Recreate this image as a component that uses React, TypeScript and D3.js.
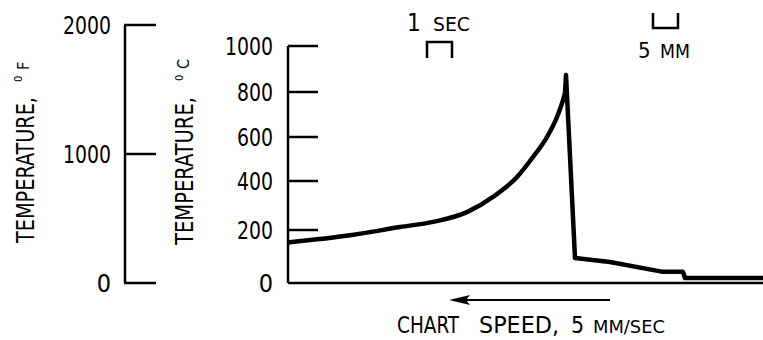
import React from "react";
import * as d3 from "d3";

// rising part of the trace (seconds along chart, deg C)
const riseTime = [0, 2.56, 4.48, 5.8, 7.16, 8.2, 9.16, 9.8, 10.36, 10.76, 11.0, 11.08];
const riseTemp = [153, 181, 212, 233, 273, 335, 418, 509, 600, 689, 764, 796];
// spike, drop and tail
const fallTime = [11.08, 11.12, 11.48, 12.88, 15.0, 15.8, 15.88, 19];
const fallTemp = [796, 874, 94, 79, 42, 42, 19, 19];

const cTicks = [0, 200, 400, 600, 800, 1000];
const cTickY = [283, 230, 181, 137, 92, 46]; // hand drawn scale, spacing not even
const fTicks = [0, 1000, 2000];

const secMark = 5.56; // "1 SEC" bracket start
const mmMark = 14.6; // "5 MM" bracket start
const arrowFrom = 12.88;
const arrowTo = 6.44;
const speedLabelAt = 4.36; // left edge of "CHART SPEED..."

const FONT = "'DejaVu Sans Condensed', 'DejaVu Sans', sans-serif";
const CH = 12; // width of one lettering char

// text, optionally squeezed to the lettering width
const T = ({ x = 0, y = 0, len, size, anchor = "start", rot = false, children }: any) => (
  <text
    transform={rot ? `translate(${x},${y}) rotate(-90)` : undefined}
    x={rot ? 0 : x}
    y={rot ? 0 : y}
    fontSize={size}
    textAnchor={anchor}
    textLength={len}
    lengthAdjust={len ? "spacingAndGlyphs" : undefined}
  >
    {children}
  </text>
);

const App = () => {
  const width = 763;
  const height = 340;

  const x = d3.scaleLinear().domain([0, 19]).range([288, 763]);
  const y = d3.scaleLinear().domain(cTicks).range(cTickY);
  const yF = d3.scaleLinear().domain([0, 2000]).range([283, 25]);

  const rise = riseTime.map((t, i) => [t, riseTemp[i]] as [number, number]);
  const fall = fallTime.map((t, i) => [t, fallTemp[i]] as [number, number]);

  const riseLine = d3
    .line<[number, number]>()
    .x((d) => x(d[0]))
    .y((d) => y(d[1]))
    .curve(d3.curveMonotoneX);
  const fallLine = d3
    .line<[number, number]>()
    .x((d) => x(d[0]))
    .y((d) => y(d[1]));

  const sec = x(1) - x(0);
  const fAxisX = 125;
  const tickLen = 30;
  const sx = x(speedLabelAt);

  return (
    <svg
      width={width}
      height={height}
      style={{ position: "absolute", left: 0, top: 0, background: "#fff" }}
      fontFamily={FONT}
    >
      {/* fahrenheit scale */}
      <line x1={fAxisX} x2={fAxisX} y1={yF(2000)} y2={yF(0)} stroke="#000" strokeWidth={2.5} />
      {fTicks.map((t) => (
        <g key={t}>
          <line x1={fAxisX - 1} x2={fAxisX + 31} y1={yF(t)} y2={yF(t)} stroke="#000" strokeWidth={2.5} />
          <T x={111} y={yF(t) + 9} size={25} anchor="end" len={t ? String(t).length * CH : undefined}>
            {t}
          </T>
        </g>
      ))}
      <T rot x={34} y={243} size={24} len={146}>TEMPERATURE,</T>
      <T rot x={22} y={82} size={11}>0</T>
      <T rot x={29} y={70} size={16}>F</T>

      {/* celsius axis */}
      <T rot x={193} y={245} size={24} len={148}>TEMPERATURE,</T>
      <T rot x={183} y={81} size={11}>0</T>
      <T rot x={189} y={69} size={16}>C</T>

      <line x1={x(0)} x2={x(0)} y1={y(1000)} y2={y(0)} stroke="#000" strokeWidth={2.5} />
      <line x1={x(0)} x2={width} y1={y(0)} y2={y(0)} stroke="#000" strokeWidth={2.5} />
      {cTicks.map((t) => (
        <g key={t}>
          {t > 0 && (
            <line x1={x(0)} x2={x(0) + tickLen} y1={y(t)} y2={y(t)} stroke="#000" strokeWidth={2.5} />
          )}
          <T x={273} y={y(t) + 9} size={25} anchor="end" len={t ? String(t).length * CH : undefined}>
            {t}
          </T>
        </g>
      ))}

      {/* trace */}
      <path d={riseLine(rise) ?? ""} fill="none" stroke="#000" strokeWidth={4.5} strokeLinejoin="round" />
      <path d={fallLine(fall) ?? ""} fill="none" stroke="#000" strokeWidth={4.5} strokeLinejoin="round" />

      {/* time / distance markers */}
      <T x={x(secMark) - 20} y={31} size={24}>1</T>
      <T x={x(secMark) + 6} y={31} size={19} len={37}>SEC</T>
      <path
        d={`M${x(secMark)},58V42H${x(secMark) + sec}V58`}
        fill="none"
        stroke="#000"
        strokeWidth={2.5}
      />
      <path
        d={`M${x(mmMark)},13V28H${x(mmMark) + sec}V13`}
        fill="none"
        stroke="#000"
        strokeWidth={2.5}
      />
      <T x={x(mmMark) - 15} y={58} size={22}>5</T>
      <T x={x(mmMark) + 7} y={58} size={19} len={30}>MM</T>

      {/* chart speed arrow */}
      <line x1={x(arrowFrom)} x2={x(arrowTo) + 14} y1={300} y2={300} stroke="#000" strokeWidth={2} />
      <path
        d={`M${x(arrowTo)},300L${x(arrowTo) + 21},295L${x(arrowTo) + 17},300L${x(arrowTo) + 21},305Z`}
        fill="#000"
      />
      <T x={sx} y={333} size={23} len={62}>CHART</T>
      <T x={sx + 82} y={333} size={23} len={80}>SPEED,</T>
      <T x={sx + 174} y={333} size={23}>5</T>
      <T x={sx + 196} y={333} size={18} len={72}>MM/SEC</T>
    </svg>
  );
};

export default App;
